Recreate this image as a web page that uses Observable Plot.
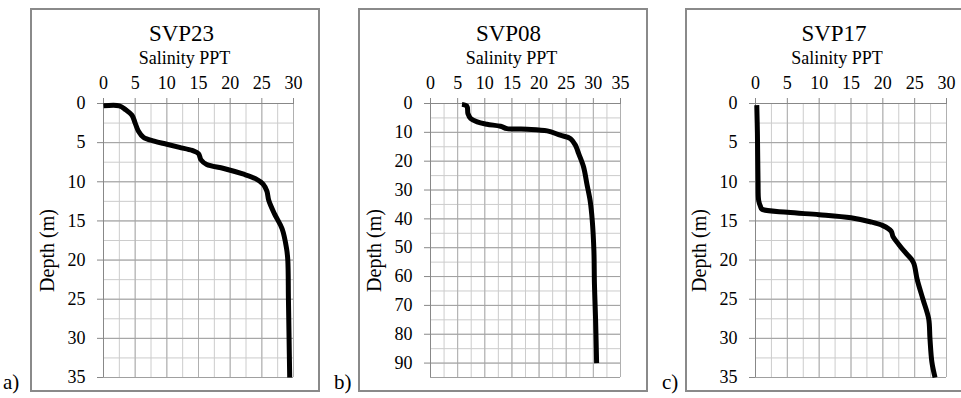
<!DOCTYPE html>
<html>
<head>
<meta charset="utf-8">
<script src="https://cdn.jsdelivr.net/npm/d3@7"></script>
<script src="https://cdn.jsdelivr.net/npm/@observablehq/plot@0.6"></script>
<style>
  html, body { margin: 0; padding: 0; background: #fff; overflow: hidden; }
  #wrap { position: relative; width: 961px; height: 398px; overflow: hidden; background: #fff;
          font-family: "Liberation Serif", "Times New Roman", serif; }
  #wrap svg, #wrap svg text { font-family: "Liberation Serif", "Times New Roman", serif !important; }
  .box { position: absolute; box-sizing: border-box; border: 2px solid #8a8a8a; }
  .plot { position: absolute; }
  .tag { position: absolute; font-size: 21px; line-height: 21px; color: #000; }
</style>
</head>
<body>
<div id="wrap"></div>
<script>
// ---------- Data ----------
// a) SVP23
const svp23Depth    = [0.3, 0.3, 0.8, 1.5, 2.5, 3.5, 4.3, 4.8, 5.2, 5.6, 6.0, 6.4, 7.2, 7.8, 8.3, 9.0, 9.6, 10.3, 11.2, 12.4, 14.1, 16.0, 18.5, 20, 25, 30, 35];
const svp23Salinity = [0.0, 2.5, 3.5, 4.5, 5.0, 5.5, 6.3, 8.0, 10.0, 12.0, 14.0, 15.0, 15.4, 16.3, 19.0, 22.0, 24.0, 25.2, 25.8, 26.1, 27.0, 28.2, 28.9, 29.1, 29.2, 29.3, 29.4];
// b) SVP08
const svp08Depth    = [0.3, 0.9, 3.5, 5.2, 6.4, 7.2, 7.9, 8.7, 8.9, 9.5, 11.0, 12.2, 14.5, 17.4, 22.0, 27.8, 33.6, 40.6, 51.0, 62.6, 74.2, 90];
const svp08Salinity = [5.8, 6.7, 6.9, 7.4, 8.6, 10.4, 12.9, 14.1, 17.8, 21.5, 23.9, 25.8, 26.7, 27.3, 28.2, 28.8, 29.4, 29.8, 30.1, 30.2, 30.4, 30.6];
// c) SVP17
const svp17Depth    = [0.2, 3.8, 10.0, 12.4, 13.2, 13.5, 13.9, 14.2, 14.6, 15.1, 15.6, 16.3, 17.0, 18.0, 19.0, 19.9, 20.5, 22.5, 25.0, 27.5, 30.0, 33.0, 35.0];
const svp17Salinity = [0.2, 0.3, 0.4, 0.5, 0.8, 1.0, 5.0, 10.0, 15.0, 18.0, 20.0, 21.3, 21.6, 22.5, 23.5, 24.5, 24.9, 25.4, 26.3, 27.2, 27.4, 27.7, 28.2];

// Axis ticks
const xTicksA = [0, 5, 10, 15, 20, 25, 30];
const yTicksA = [0, 5, 10, 15, 20, 25, 30, 35];
const xTicksB = [0, 5, 10, 15, 20, 25, 30, 35];
const yTicksB = [0, 10, 20, 30, 40, 50, 60, 70, 80, 90];
const xTicksC = [0, 5, 10, 15, 20, 25, 30];
const yTicksC = [0, 5, 10, 15, 20, 25, 30, 35];

const titles = ["SVP23", "SVP08", "SVP17"];
const tags = ["a)", "b)", "c)"];

// ---------- Drawing ----------
const FONT = '"Liberation Serif", "Times New Roman", serif';
const wrap = document.getElementById("wrap");

function panel({left, tagLeft, depth, salinity, xDomain, xTicks, xMinorStep, yDomain, yTicks, yMinorStep, title, tag, mLeft, mRight}) {
  const W = 290, H = 384, top = 8;
  const box = document.createElement("div");
  box.className = "box";
  Object.assign(box.style, {left: left + "px", top: top + "px", width: W + "px", height: H + "px"});
  wrap.appendChild(box);

  const rows = depth.map((d, i) => ({depth: d, sal: salinity[i]}));
  const xMinor = d3.range(xDomain[0], xDomain[1] + 1e-9, xMinorStep);
  const yMinor = d3.range(yDomain[0], yDomain[1] + 1e-9, yMinorStep);
  const plotW = W - mLeft - mRight;

  const chart = Plot.plot({
    width: W, height: H,
    marginLeft: mLeft, marginRight: mRight, marginTop: 95, marginBottom: 15,
    style: {fontFamily: FONT, color: "#000", background: "transparent", overflow: "visible"},
    x: {domain: xDomain, axis: null},
    y: {domain: yDomain, reverse: true, axis: null},
    marks: [
      Plot.ruleX(xMinor, {stroke: "#cccccc", strokeWidth: 1}),
      Plot.ruleY(yMinor, {stroke: "#cccccc", strokeWidth: 1}),
      Plot.ruleX(xTicks, {stroke: "#b0b0b0", strokeWidth: 1}),
      Plot.ruleY(yTicks, {stroke: "#a0a0a0", strokeWidth: 1}),
      Plot.ruleY(yMinor.slice(-1), {stroke: "#a0a0a0", strokeWidth: 1}),
      Plot.axisX(xTicks, {anchor: "top", tickSize: 6, tickPadding: 9, fontSize: 18, label: null, stroke: "#888", fill: "#000", fontFamily: FONT}),
      Plot.axisY(yTicks, {anchor: "left", tickSize: 6, tickPadding: 12, fontSize: 18, label: null, stroke: "#888", fill: "#000", fontFamily: FONT}),
      Plot.ruleX([xDomain[0]], {stroke: "#888"}),
      Plot.ruleY([yDomain[0]], {stroke: "#888"}),
      Plot.line(rows, {x: "sal", y: "depth", stroke: "#000", strokeWidth: 5, curve: "catmull-rom", strokeLinejoin: "round", strokeLinecap: "butt"}),
      Plot.text([title], {text: d => d, frameAnchor: "top-left", lineAnchor: "middle", textAnchor: "middle",
                          dx: plotW / 2 - 17, dy: -70, fontSize: 23, fill: "#000", fontFamily: FONT}),
      Plot.text(["Salinity PPT"], {text: d => d, frameAnchor: "top-left", lineAnchor: "middle", textAnchor: "middle",
                          dx: plotW / 2 - 14, dy: -45, fontSize: 18, fill: "#000", fontFamily: FONT}),
      Plot.text(["Depth (m)"], {text: d => d, frameAnchor: "left", lineAnchor: "middle", textAnchor: "middle", rotate: -90,
                          dx: -56, dy: 10, fontSize: 20, fill: "#000", fontFamily: FONT})
    ]
  });
  chart.classList.add("plot");
  chart.style.left = left + "px";
  chart.style.top = top + "px";
  wrap.appendChild(chart);

  const t = document.createElement("div");
  t.className = "tag";
  t.textContent = tag;
  t.style.left = tagLeft + "px";
  t.style.top = "372px";
  wrap.appendChild(t);
}

panel({left: 30, tagLeft: 3, depth: svp23Depth, salinity: svp23Salinity, xDomain: [0, 30], xTicks: xTicksA, xMinorStep: 2.5,
       yDomain: [0, 35], yTicks: yTicksA, yMinorStep: 2.5, title: titles[0], tag: tags[0], mLeft: 73, mRight: 27});
panel({left: 358, tagLeft: 334, depth: svp08Depth, salinity: svp08Salinity, xDomain: [0, 35], xTicks: xTicksB, xMinorStep: 2.5,
       yDomain: [0, 95], yTicks: yTicksB, yMinorStep: 5, title: titles[1], tag: tags[1], mLeft: 72, mRight: 28});
panel({left: 685, tagLeft: 662, depth: svp17Depth, salinity: svp17Salinity, xDomain: [0, 30], xTicks: xTicksC, xMinorStep: 2.5,
       yDomain: [0, 35], yTicks: yTicksC, yMinorStep: 2.5, title: titles[2], tag: tags[2], mLeft: 70, mRight: 29});
</script>
</body>
</html>
